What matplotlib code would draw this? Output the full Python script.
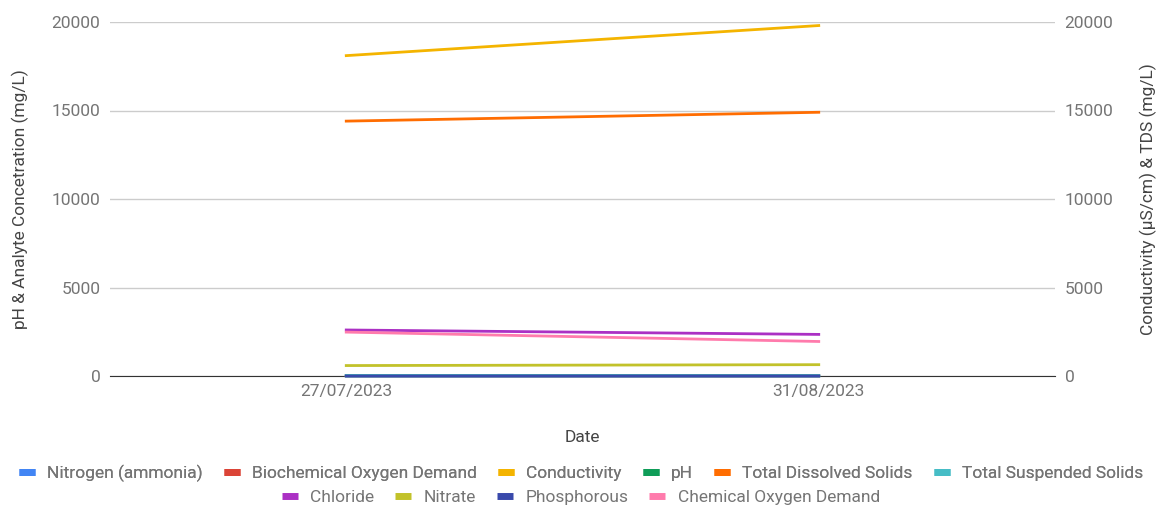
import matplotlib.pyplot as plt
from matplotlib.lines import Line2D

plt.rcParams['font.family'] = ['Roboto', 'DejaVu Sans']

dates = ['27/07/2023', '31/08/2023']

# left axis series (mg/L, pH unitless)
nitrogen = [1.2, 1.0]
bod = [12, 10]
ph = [7.8, 7.9]
tss = [25, 20]
chloride = [2600, 2350]
nitrate = [590, 640]
phosphorous = [0.6, 0.5]
cod = [2480, 1950]

# right axis series
conductivity = [18100, 19800]
tds = [14400, 14900]

left_series = [
    ('Nitrogen (ammonia)', nitrogen, '#4285f4'),
    ('Biochemical Oxygen Demand', bod, '#db4437'),
    ('pH', ph, '#0f9d58'),
    ('Total Suspended Solids', tss, '#46bdc6'),
    ('Chloride', chloride, '#ab30c4'),
    ('Nitrate', nitrate, '#c2c22a'),
    ('Phosphorous', phosphorous, '#3949ab'),
    ('Chemical Oxygen Demand', cod, '#ff7bac'),
]
right_series = [
    ('Conductivity', conductivity, '#f4b400'),
    ('Total Dissolved Solids', tds, '#ff6d01'),
]
colors = {name: c for name, _, c in left_series + right_series}
legend_order = ['Nitrogen (ammonia)', 'Biochemical Oxygen Demand', 'Conductivity', 'pH',
                'Total Dissolved Solids', 'Total Suspended Solids', 'Chloride', 'Nitrate',
                'Phosphorous', 'Chemical Oxygen Demand']

fs = 12.5
fig = plt.figure(figsize=(11.62, 5.07), dpi=100)
ax = fig.add_axes([110 / 1162, 1 - 376 / 507, 945 / 1162, (376 - 22) / 507])
ax2 = ax.twinx()

x = range(len(dates))
for name, vals, c in left_series:
    ax.plot(x, vals, color=c, lw=2.0, zorder=3, clip_on=False)
for name, vals, c in right_series:
    ax2.plot(x, vals, color=c, lw=2.0, zorder=3, clip_on=False)

for a in (ax, ax2):
    a.set_xlim(-0.5, 1.5)
    a.set_ylim(0, 20000)
    a.set_yticks([0, 5000, 10000, 15000, 20000])
    for s in a.spines.values():
        s.set_visible(False)
    a.tick_params(axis='y', length=0, labelsize=fs, labelcolor='#757575', pad=7)

ax.spines['bottom'].set_visible(True)
ax.spines['bottom'].set_color('#333333')
ax.spines['bottom'].set_zorder(1)
ax.grid(axis='y', color='#cccccc', lw=1)
ax.set_axisbelow(True)
ax.set_xticks(list(x))
ax.set_xticklabels(dates)
ax.tick_params(axis='x', length=0, labelsize=fs, labelcolor='#757575', pad=6)

ax.set_ylabel('pH & Analyte Concetration (mg/L)', fontsize=fs, color='#444444', labelpad=16)
ax2.set_ylabel('Conductivity (µS/cm) & TDS (mg/L)', fontsize=fs, color='#444444', labelpad=19)
ax.set_xlabel('Date', fontsize=fs, color='#444444', labelpad=22)

handles = [Line2D([], [], color=colors[n], lw=5, solid_capstyle='butt') for n in legend_order]
opts = dict(loc='center', frameon=False, fontsize=fs, handlelength=0.92, columnspacing=1.2,
            handletextpad=0.72, labelcolor='#757575')
row1 = fig.legend(handles[:6], legend_order[:6], bbox_to_anchor=(0.5, 1 - 473 / 507), ncol=6, **opts)
fig.legend(handles[6:], legend_order[6:], bbox_to_anchor=(0.5, 1 - 497 / 507), ncol=4, **opts)
fig.add_artist(row1)

fig.savefig('out.png', dpi=100)
